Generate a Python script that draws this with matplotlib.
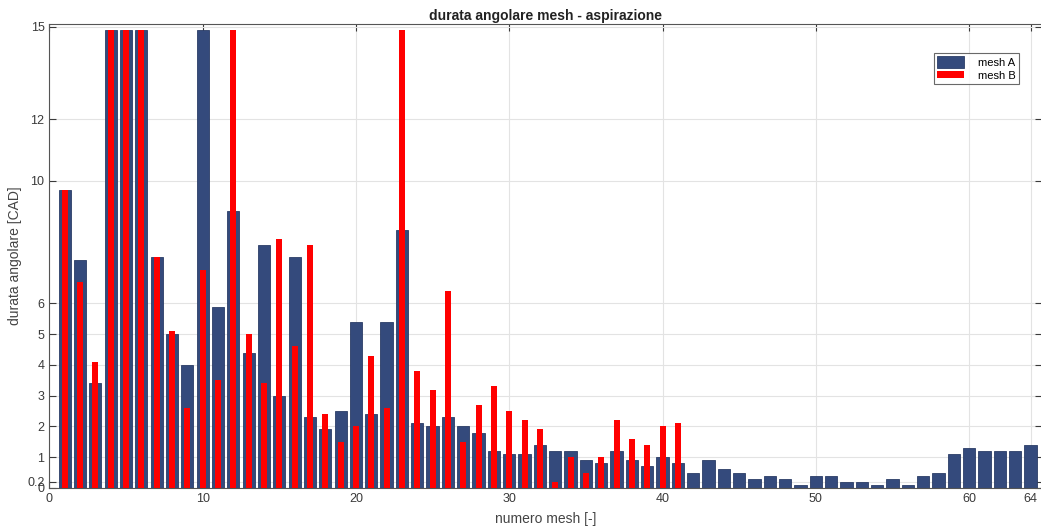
import numpy as np
import matplotlib.pyplot as plt
from matplotlib.patches import Rectangle
from matplotlib.legend_handler import HandlerPatch

# durata angolare per mesh (valori saturati a 14.9)
mesh_n = np.arange(1, 65)
mesh_a = [9.7, 7.4, 3.4, 14.9, 14.9, 14.9, 7.5, 5.0, 4.0, 14.9,
          5.9, 9.0, 4.4, 7.9, 3.0, 7.5, 2.3, 1.9, 2.5, 5.4,
          2.4, 5.4, 8.4, 2.1, 2.0, 2.3, 2.0, 1.8, 1.2, 1.1,
          1.1, 1.4, 1.2, 1.2, 0.9, 0.8, 1.2, 0.9, 0.7, 1.0,
          0.8, 0.5, 0.9, 0.6, 0.5, 0.3, 0.4, 0.3, 0.1, 0.4,
          0.4, 0.2, 0.2, 0.1, 0.3, 0.1, 0.4, 0.5, 1.1, 1.3,
          1.2, 1.2, 1.2, 1.4]
mesh_b = [9.7, 6.7, 4.1, 14.9, 14.9, 14.9, 7.5, 5.1, 2.6, 7.1,
          3.5, 14.9, 5.0, 3.4, 8.1, 4.6, 7.9, 2.4, 1.5, 2.0,
          4.3, 2.6, 14.9, 3.8, 3.2, 6.4, 1.5, 2.7, 3.3, 2.5,
          2.2, 1.9, 0.2, 1.0, 0.5, 1.0, 2.2, 1.6, 1.4, 2.0,
          2.1]
yticks = [0, 0.2, 1, 2, 3, 4, 5, 6, 10, 12, 15]
xticks = [0, 10, 20, 30, 40, 50, 60, 64]

blu = '#344a7c'
rosso = '#ff0000'

plt.rcParams['font.family'] = ['Liberation Sans', 'DejaVu Sans']

fig = plt.figure(figsize=(10.41, 5.28), dpi=100)
ax = fig.add_axes([0.0474, 0.076, 0.9536, 0.879])

ax.bar(mesh_n, mesh_a, width=0.8, color=blu, edgecolor='#2a3c66',
       linewidth=0.6, zorder=2)
ax.bar(mesh_n[:len(mesh_b)], mesh_b, width=0.4, color=rosso,
       linewidth=0, zorder=3)

ax.set_xlim(0, 64.75)
ax.set_ylim(0, 15.1)
ax.set_xticks(xticks)
ax.set_yticks(yticks)
ax.set_yticklabels([f'{v:g}' for v in yticks])
ax.grid(True, color='#e3e3e3', linewidth=0.8, zorder=0)
ax.set_axisbelow(True)
ax.tick_params(direction='in', top=True, right=True, length=5,
               labelsize=9, colors='#3a3a3a', width=0.8)
for s in ax.spines.values():
    s.set_color('#555555')
    s.set_linewidth(0.8)

ax.set_title('durata angolare mesh - aspirazione', fontsize=10,
             fontweight='bold', color='#222222', pad=3)
ax.set_xlabel('numero mesh [-]', fontsize=10, color='#444444', labelpad=5)
ax.set_ylabel('durata angolare [CAD]', fontsize=10, color='#444444',
              labelpad=4)


def red_patch(legend, orig_handle, xdescent, ydescent, width, height,
              fontsize):
    h = height * 0.55
    return Rectangle((-xdescent, -ydescent + (height - h) / 2), width, h)


h_a = Rectangle((0, 0), 1, 1, facecolor=blu, edgecolor='#2a3c66',
                linewidth=0.6)
h_b = Rectangle((0, 0), 1, 1, facecolor=rosso, linewidth=0)
leg = ax.legend([h_a, h_b], ['mesh A', 'mesh B'], loc='upper right',
                bbox_to_anchor=(0.977, 0.9375), fontsize=8, frameon=True,
                fancybox=False, edgecolor='#444444', handlelength=2.4,
                handleheight=1.3, handletextpad=1.3, borderpad=0.3,
                labelspacing=0.05, borderaxespad=0,
                handler_map={h_b: HandlerPatch(patch_func=red_patch)})
leg.get_frame().set_linewidth(0.8)

fig.savefig('out.png', dpi=100)
